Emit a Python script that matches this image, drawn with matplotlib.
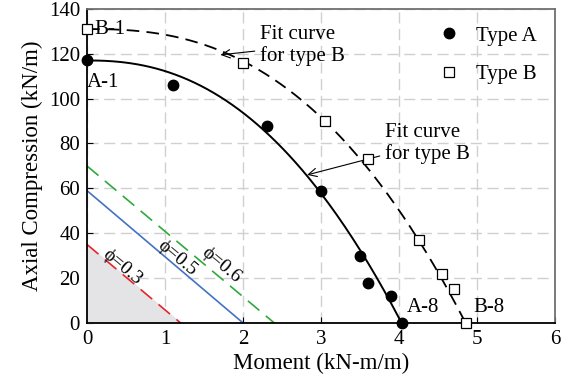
import numpy as np
import matplotlib.pyplot as plt

plt.rcParams['font.family'] = ['Liberation Serif', 'DejaVu Serif']

# test data
type_a_m = [0.0, 1.1, 2.3, 3.0, 3.5, 3.6, 3.9, 4.03]
type_a_p = [117, 106, 88, 59, 30, 18, 12, 0]
type_b_m = [0.0, 2.0, 3.05, 3.6, 4.25, 4.55, 4.7, 4.85]
type_b_p = [131, 116, 90, 73, 37, 22, 15, 0]

# fit curve parameters: P = P0 * (1 - (M/M0)^n)
fit_a = (117, 4.03, 2.3)
fit_b = (131, 4.85, 2.5)

# phi lines (axial intercept, moment intercept)
phi_labels = ['ϕ=0.3', 'ϕ=0.5', 'ϕ=0.6']
phi_p0 = [35, 59, 70]
phi_m0 = [1.2, 2.0, 2.4]
phi_colors = ['#e8262a', '#4472c4', '#2eaa3c']
phi_styles = [(0, (9, 5)), '-', (0, (9, 5))]

fs = 15

fig = plt.figure(figsize=(5.63, 3.85), dpi=100)
ax = fig.add_axes([0.1545, 0.161, 0.832, 0.816])

# shaded region under phi=0.3
ax.fill_between([0, phi_m0[0]], [phi_p0[0], 0], 0, color='#e4e4e6', zorder=1)

for p0, m0, c, ls in zip(phi_p0, phi_m0, phi_colors, phi_styles):
    ax.plot([0, m0], [p0, 0], color=c, linestyle=ls, lw=1.2, zorder=2)

ax.text(0.45, 25, phi_labels[0], rotation=-40, ha='center', va='center', fontsize=14)
ax.text(1.15, 29, phi_labels[1], rotation=-40, ha='center', va='center', fontsize=14)
ax.text(1.72, 26, phi_labels[2], rotation=-40, ha='center', va='center', fontsize=14)

m = np.linspace(0, fit_a[1], 200)
ax.plot(m, fit_a[0] * (1 - (m / fit_a[1]) ** fit_a[2]), color='black', lw=1.4, zorder=3)
m = np.linspace(0, fit_b[1], 200)
ax.plot(m, fit_b[0] * (1 - (m / fit_b[1]) ** fit_b[2]), color='black', lw=1.3,
        linestyle=(0, (7, 4)), zorder=3)

ax.plot(type_a_m, type_a_p, 'o', color='black', ms=7.5, zorder=4, clip_on=False, label='Type A')
ax.plot(type_b_m, type_b_p, 's', mfc='white', mec='black', ms=7.5, mew=0.9, zorder=4,
        clip_on=False, label='Type B')

ax.text(0.09, 131, 'B-1', fontsize=fs, va='center')
ax.text(0.0, 107, 'A-1', fontsize=fs, va='center')
ax.text(4.1, 7, 'A-8', fontsize=fs, va='center')
ax.text(4.95, 7, 'B-8', fontsize=fs, va='center')

ax.annotate('Fit curve\nfor type B', xy=(1.71, 119.5), xytext=(2.22, 123.5),
            fontsize=fs, va='center', linespacing=1.15,
            arrowprops=dict(arrowstyle='->', color='black', lw=0.8, shrinkA=2, shrinkB=0))
ax.annotate('Fit curve\nfor type B', xy=(2.82, 66), xytext=(3.82, 80),
            fontsize=fs, va='center', linespacing=1.15,
            arrowprops=dict(arrowstyle='->', color='black', lw=0.8, shrinkA=2, shrinkB=0))

ax.set_xlim(0, 6)
ax.set_ylim(0, 140)
ax.set_xticks(range(0, 7))
ax.set_yticks(range(0, 141, 20))
ax.grid(True, color='#d0d0d0', linestyle=(0, (8, 4)), lw=1.0)
ax.set_axisbelow(True)
ax.tick_params(direction='in', labelsize=fs, length=4, pad=5)
for s in ax.spines.values():
    s.set_color('#707070')
    s.set_linewidth(1.3)
ax.spines['left'].set_color('black')
ax.spines['bottom'].set_color('black')

ax.set_xlabel('Moment (kN-m/m)', fontsize=16.5, labelpad=3)
ax.set_ylabel('Axial Compression (kN/m)', fontsize=16.5, labelpad=4)

ax.legend(loc='upper right', frameon=False, fontsize=fs, handletextpad=0.7,
          labelspacing=0.9, bbox_to_anchor=(1.0, 1.005), handlelength=1.2)

fig.savefig('out.png', dpi=100)
